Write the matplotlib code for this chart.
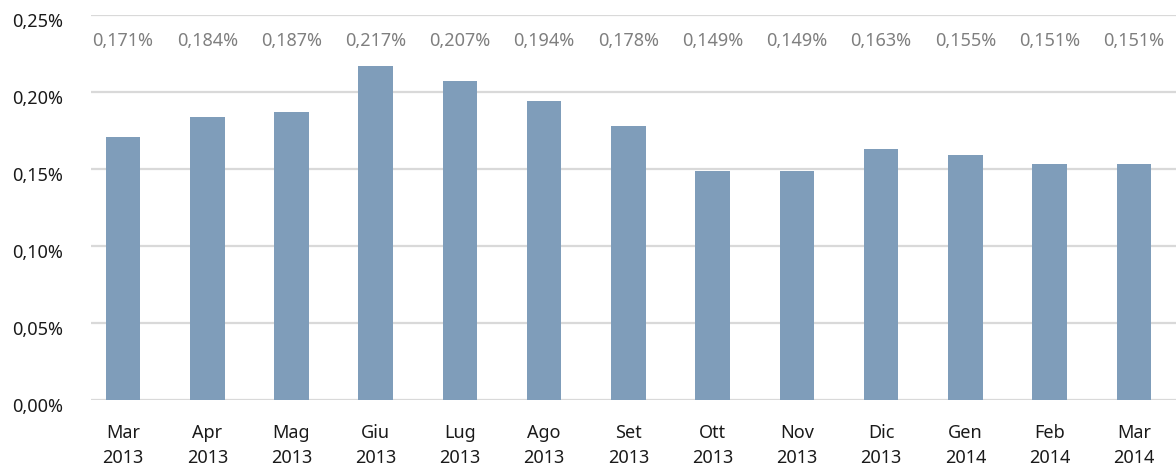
import matplotlib
matplotlib.use("Agg")
import matplotlib.pyplot as plt
import matplotlib.transforms as mtransforms
from matplotlib.ticker import FuncFormatter

months = ["Mar", "Apr", "Mag", "Giu", "Lug", "Ago", "Set", "Ott", "Nov", "Dic", "Gen", "Feb", "Mar"]
years = ["2013"] * 10 + ["2014"] * 3
bar_values = [0.171, 0.184, 0.187, 0.217, 0.207, 0.194, 0.178, 0.149, 0.149, 0.163, 0.159, 0.153, 0.153]
value_labels = ["0,171%", "0,184%", "0,187%", "0,217%", "0,207%", "0,194%", "0,178%",
                "0,149%", "0,149%", "0,163%", "0,155%", "0,151%", "0,151%"]
yticks = [0.0, 0.05, 0.10, 0.15, 0.20, 0.25]

plt.rcParams['font.family'] = ['Noto Sans', 'DejaVu Sans']

fig = plt.figure(figsize=(11.76, 4.66), dpi=100)
ax = fig.add_axes([91 / 1176, 1 - 400 / 466, 1085 / 1176, 385 / 466])

x = list(range(len(months)))
ax.bar(x, bar_values, width=0.41, color="#7F9DBA", zorder=3)

for xi, lab in zip(x, value_labels):
    ax.text(xi, 0.233, lab, ha="center", va="center", fontsize=13, color="#7F7F7F")

ax.set_xlim(-0.38, len(months) - 0.5)
ax.set_ylim(0, 0.25)
ax.set_yticks(yticks)
ax.yaxis.set_major_formatter(FuncFormatter(lambda v, p: f"{v:.2f}%".replace(".", ",")))
ax.set_xticks(x)
ax.set_xticklabels([f"{m}\n{y}" for m, y in zip(months, years)], linespacing=1.55)

ax.tick_params(axis="both", length=0, labelsize=13, labelcolor="#1a1a1a")
ax.tick_params(axis="y", pad=20)
ax.tick_params(axis="x", pad=17)

shift = mtransforms.ScaledTranslation(0, -5 / 100, fig.dpi_scale_trans)
for lbl in ax.get_yticklabels():
    lbl.set_transform(lbl.get_transform() + shift)

ax.yaxis.grid(True, color="#D9D9D9", linewidth=1.6, zorder=0)
ax.set_axisbelow(True)
for s in ax.spines.values():
    s.set_visible(False)

fig.savefig("out.png", dpi=100)
